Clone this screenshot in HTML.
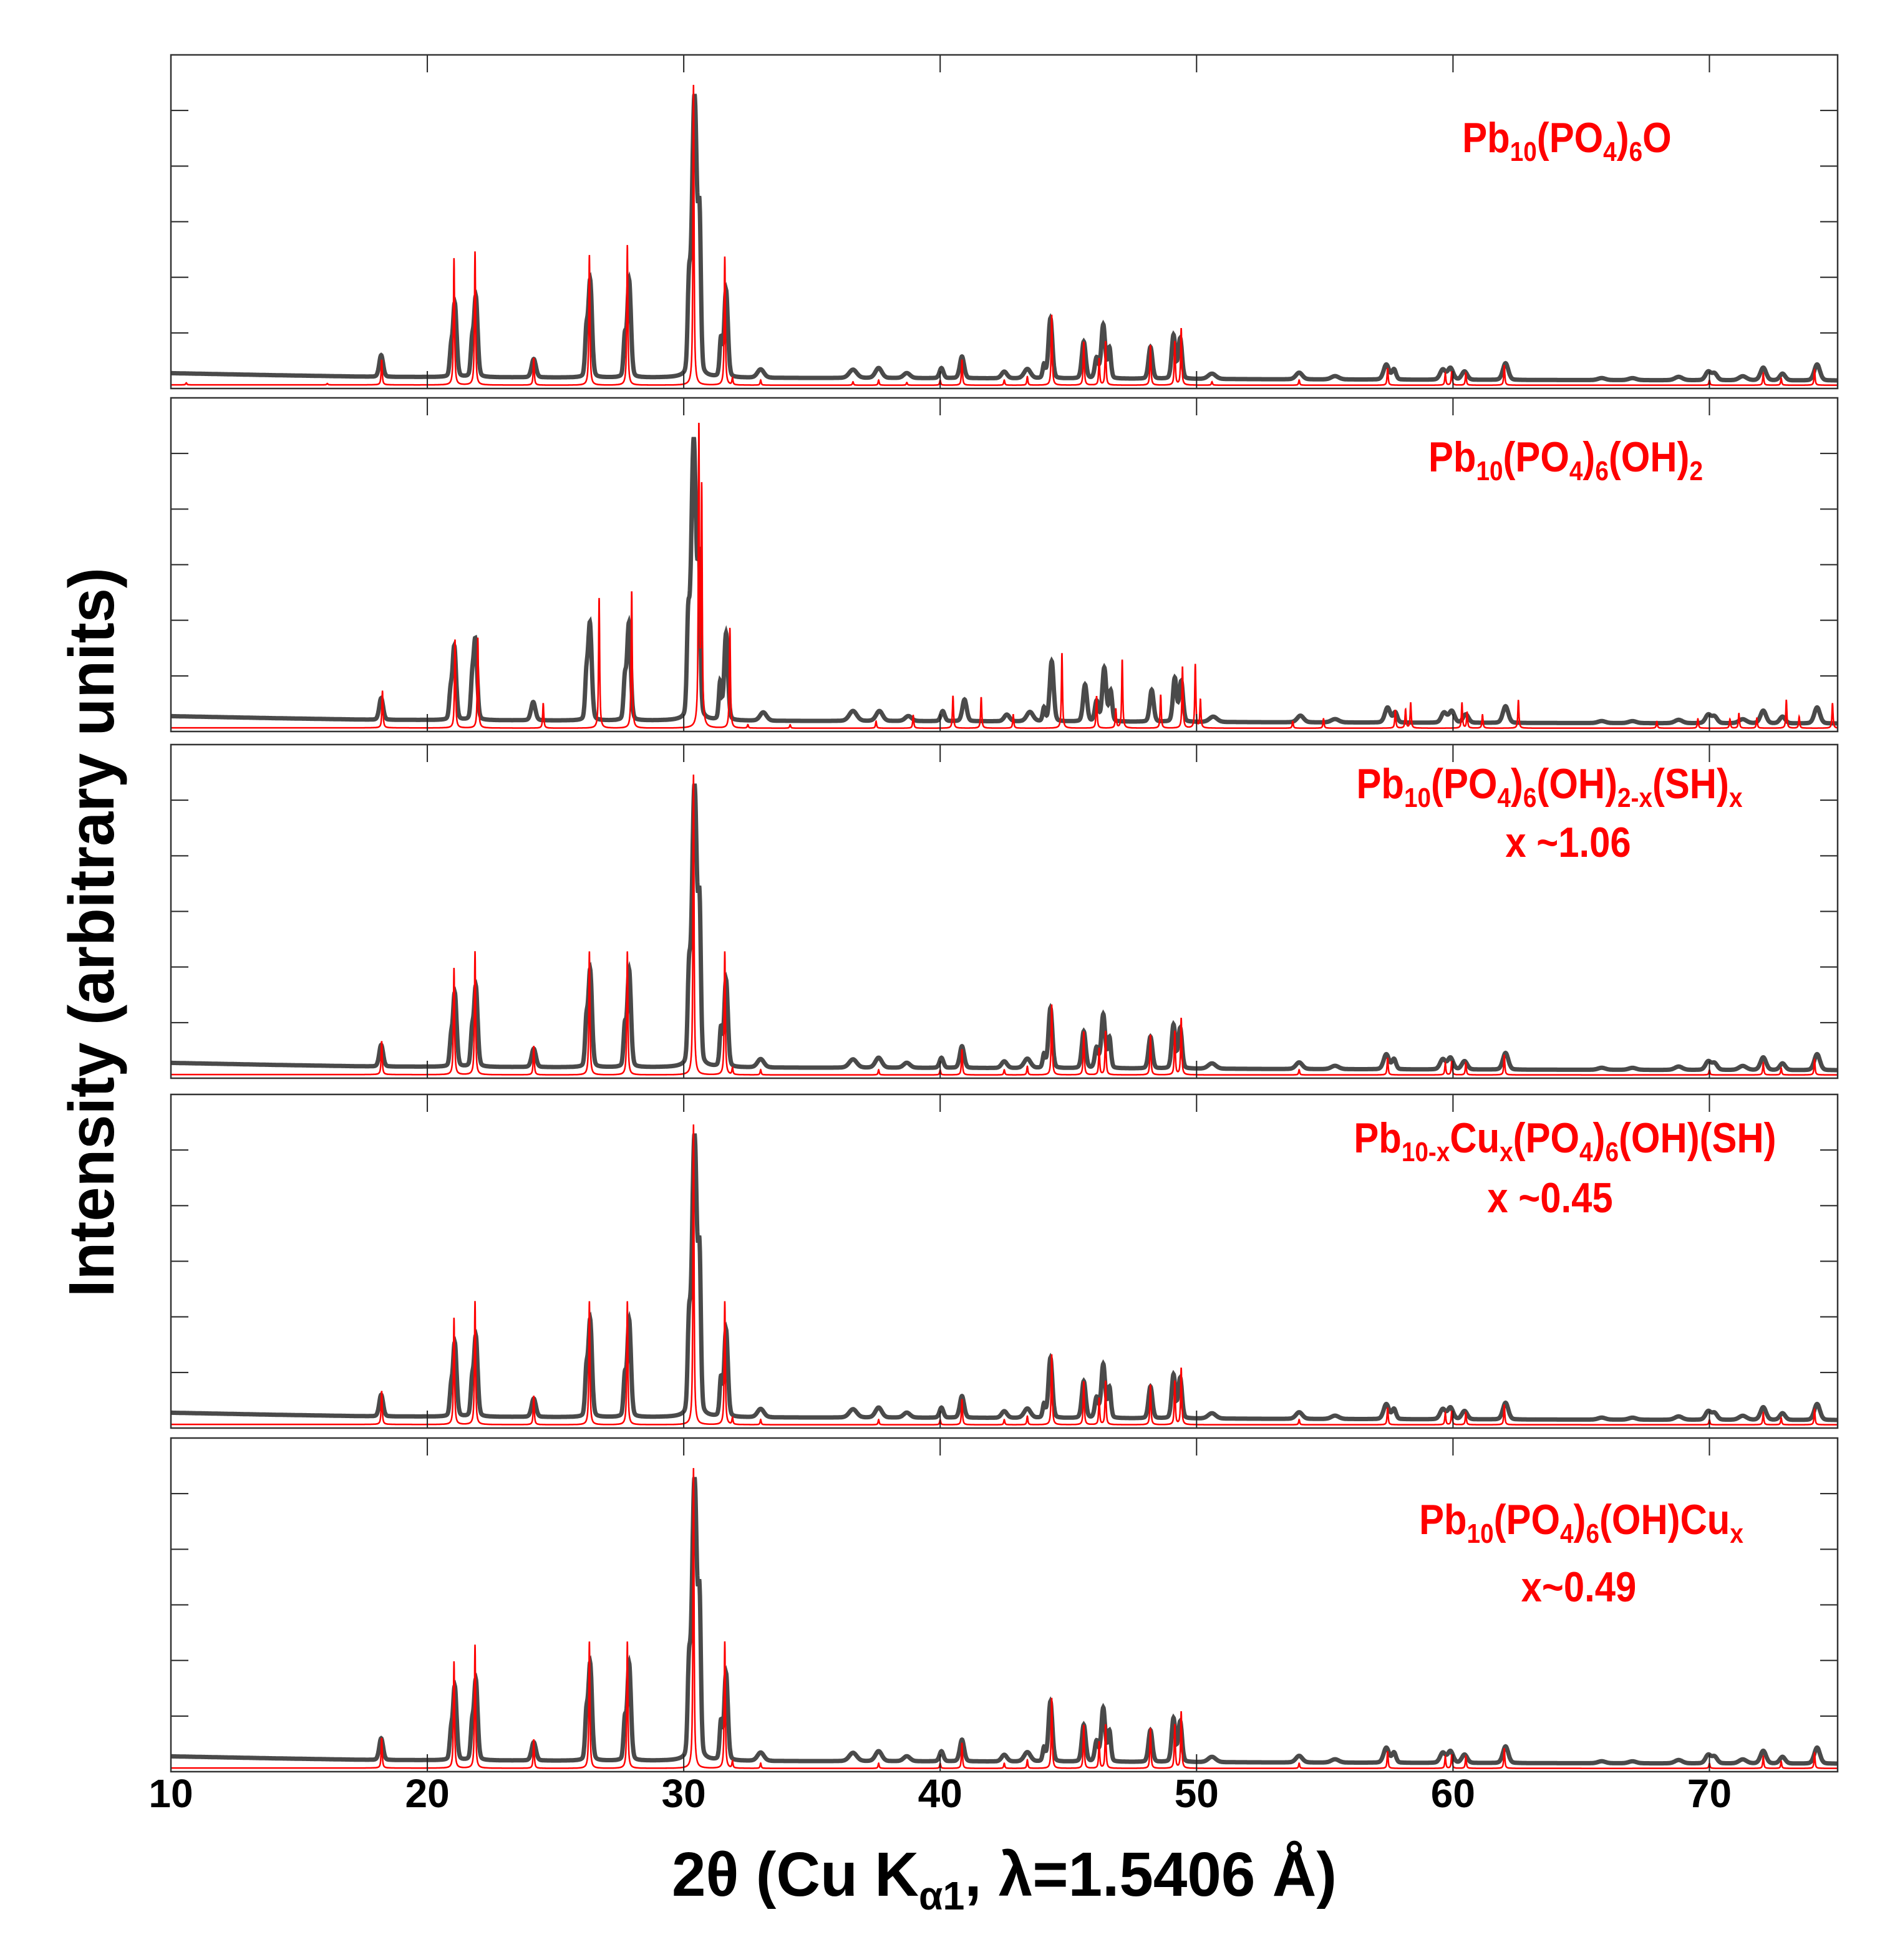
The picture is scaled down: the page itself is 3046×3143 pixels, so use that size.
<!DOCTYPE html>
<html><head><meta charset="utf-8"><title>XRD patterns</title>
<style>
html,body{margin:0;padding:0;background:#fff;}
svg{display:block;}
text{font-family:"Liberation Sans",Arial,sans-serif;font-weight:bold;}
</style></head>
<body>
<svg id="chart" xmlns="http://www.w3.org/2000/svg" width="3046" height="3143" viewBox="0 0 3046 3143">
<rect x="0" y="0" width="3046" height="3143" fill="#fff"/>
<g id="panels"></g>
<g id="labels" fill="#ff0000">
 <g transform="translate(2512,244) scale(0.88,1)"><text text-anchor="middle" font-size="68">Pb<tspan font-size="44" dy="14">10</tspan><tspan dy="-14">(PO</tspan><tspan font-size="44" dy="14">4</tspan><tspan dy="-14">)</tspan><tspan font-size="44" dy="14">6</tspan><tspan dy="-14">O</tspan></text></g>
 <g transform="translate(2510,756) scale(0.88,1)"><text text-anchor="middle" font-size="68">Pb<tspan font-size="44" dy="14">10</tspan><tspan dy="-14">(PO</tspan><tspan font-size="44" dy="14">4</tspan><tspan dy="-14">)</tspan><tspan font-size="44" dy="14">6</tspan><tspan dy="-14">(OH)</tspan><tspan font-size="44" dy="14">2</tspan></text></g>
 <g transform="translate(2484,1280) scale(0.88,1)"><text text-anchor="middle" font-size="68">Pb<tspan font-size="44" dy="14">10</tspan><tspan dy="-14">(PO</tspan><tspan font-size="44" dy="14">4</tspan><tspan dy="-14">)</tspan><tspan font-size="44" dy="14">6</tspan><tspan dy="-14">(OH)</tspan><tspan font-size="44" dy="14">2-x</tspan><tspan dy="-14">(SH)</tspan><tspan font-size="44" dy="14">x</tspan></text></g>
 <g transform="translate(2514,1374) scale(0.88,1)"><text text-anchor="middle" font-size="68">x ~1.06</text></g>
 <g transform="translate(2509,1848) scale(0.88,1)"><text text-anchor="middle" font-size="68">Pb<tspan font-size="44" dy="14">10-x</tspan><tspan dy="-14">Cu</tspan><tspan font-size="44" dy="14">x</tspan><tspan dy="-14">(PO</tspan><tspan font-size="44" dy="14">4</tspan><tspan dy="-14">)</tspan><tspan font-size="44" dy="14">6</tspan><tspan dy="-14">(OH)(SH)</tspan></text></g>
 <g transform="translate(2485,1944) scale(0.88,1)"><text text-anchor="middle" font-size="68">x ~0.45</text></g>
 <g transform="translate(2535,2460) scale(0.88,1)"><text text-anchor="middle" font-size="68">Pb<tspan font-size="44" dy="14">10</tspan><tspan dy="-14">(PO</tspan><tspan font-size="44" dy="14">4</tspan><tspan dy="-14">)</tspan><tspan font-size="44" dy="14">6</tspan><tspan dy="-14">(OH)Cu</tspan><tspan font-size="44" dy="14">x</tspan></text></g>
 <g transform="translate(2531,2568) scale(0.88,1)"><text text-anchor="middle" font-size="68">x~0.49</text></g>
</g>
<g id="xticklabels"></g>
<g transform="translate(1610,3040) scale(0.98,1)"><text text-anchor="middle" font-size="100" fill="#000">2θ (Cu K<tspan font-size="64" dy="22">α1</tspan><tspan dy="-22">, λ=1.5406 Å)</tspan></text></g>
<text transform="translate(182,1495) rotate(-90)" text-anchor="middle" font-size="103" fill="#000" textLength="1170" lengthAdjust="spacingAndGlyphs">Intensity (arbitrary units)</text>
</svg>
<script>
// ---- data (2theta in degrees, intensity in % of panel height) ----
const xTickValues = [10, 20, 30, 40, 50, 60, 70];
const xTickLabels = ["10", "20", "30", "40", "50", "60", "70"];
const bgDeg = [10, 14, 18, 25, 40, 60, 75];
const bgObs = [4.6, 4.0, 3.5, 3.3, 3.1, 2.6, 2.4];
const bgCalc = [1.1, 1.1, 1.1, 1.0, 1.0, 1.0, 1.0];

// observed peaks: [position, height, fwhm]
const obsPeaks1 = [[18.2,6.5,0.18],[20.92,7,0.12],[21.07,22,0.17],[21.74,9,0.12],[21.89,24,0.17],[24.15,5.5,0.2],[26.2,12,0.12],[26.35,29,0.17],[27.7,11,0.12],[27.87,29,0.17],[30.2,22,0.12],[30.42,84,0.24],[30.62,38,0.12],[31.45,11,0.12],[31.65,26,0.17],[33.0,2.5,0.3],[36.6,2.5,0.35],[37.6,3,0.3],[38.7,1.5,0.3],[40.05,3,0.18],[40.85,6.5,0.2],[42.5,2,0.25],[43.4,2.8,0.3],[44.05,4,0.12],[44.3,18,0.18],[45.6,11,0.18],[46.1,6,0.16],[46.36,16,0.18],[46.6,9,0.14],[48.2,9.5,0.18],[49.1,13,0.17],[49.36,12,0.17],[50.6,1.6,0.35],[54.0,2,0.3],[55.4,1,0.35],[57.4,4.5,0.25],[57.7,3,0.18],[59.6,3,0.25],[59.9,3.5,0.25],[60.45,2.5,0.25],[62.05,5,0.25],[65.8,0.6,0.35],[67.0,0.6,0.35],[68.8,1,0.35],[69.95,2.5,0.25],[70.2,2,0.25],[71.3,1.2,0.35],[72.1,3.8,0.26],[72.85,2,0.25],[74.2,4.8,0.26]];
const obsPeaks2 = [[18.2,6.5,0.18],[20.9,7,0.12],[21.05,22,0.17],[21.74,9,0.12],[21.87,24,0.17],[24.13,5.5,0.2],[26.2,11,0.12],[26.34,29,0.17],[27.7,11,0.12],[27.86,29,0.17],[30.17,24,0.12],[30.39,84,0.24],[30.6,38,0.12],[31.42,11,0.12],[31.65,26,0.17],[33.1,2.5,0.3],[36.6,3,0.35],[37.63,3,0.3],[38.76,1.5,0.3],[40.1,3,0.18],[40.95,6.5,0.2],[42.6,2,0.25],[43.5,2.8,0.3],[44.05,4,0.12],[44.35,18,0.18],[45.65,11,0.18],[46.1,6,0.16],[46.4,16,0.18],[46.65,9,0.14],[48.25,9.5,0.18],[49.15,13,0.17],[49.4,12,0.17],[50.65,1.6,0.35],[54.05,2,0.3],[55.4,1,0.35],[57.45,4.5,0.25],[57.75,3,0.18],[59.65,3,0.25],[59.95,3.5,0.25],[60.5,2.5,0.25],[62.05,5,0.25],[65.8,0.6,0.35],[67.0,0.6,0.35],[68.8,1,0.35],[69.95,2.5,0.25],[70.2,2,0.25],[71.3,1.2,0.35],[72.1,3.8,0.26],[72.85,2,0.25],[74.2,4.8,0.26]];

// calculated peaks: [position, height]
const calcPeaks1 = [[10.6,0.6],[16.1,0.4],[18.22,7.5],[21.04,38],[21.86,40],[24.15,8],[26.32,39],[27.8,42],[30.38,90],[31.6,38.5],[31.9,2],[33.0,1.5],[36.6,1],[37.6,1.5],[38.7,0.8],[40.0,1.5],[40.85,7.5],[42.5,1.5],[43.4,2.5],[44.35,21],[45.6,13],[46.2,8],[46.45,13],[48.2,12],[49.15,13],[49.4,17],[50.6,1],[54.0,1.5],[57.45,5],[59.7,3.5],[59.95,4],[60.5,3.5],[62.0,6],[70.0,1.5],[72.1,3.5],[72.8,2],[74.1,4.5]];
const calcPeaks2 = [[18.25,11],[21.08,26.5],[21.97,27],[24.52,7.5],[26.7,39],[27.97,41],[30.59,89],[30.7,70],[31.8,30],[32.5,1],[34.15,1],[37.5,2],[38.95,3.8],[40.5,9.7],[41.6,9.3],[42.85,4],[44.75,22.4],[46.1,9.6],[46.85,5.6],[47.1,20.5],[48.6,10],[49.45,18.3],[49.95,19],[50.15,8.4],[53.75,2],[54.95,2.8],[57.75,5.3],[58.15,5.6],[58.35,7.5],[60.35,7.5],[60.55,4.7],[61.15,4],[62.55,8.3],[67.95,2],[69.55,2.8],[70.8,2.7],[71.15,4.4],[71.85,3],[73.0,8.5],[73.5,3.4],[74.8,7.5]];
const calcPeaks3 = [[18.22,10],[21.04,32],[21.86,37],[24.15,8.5],[26.32,37],[27.8,37],[30.38,90],[31.6,37],[31.9,2],[33.0,1.5],[37.6,1.5],[40.0,1.5],[40.85,7.5],[42.5,1.5],[43.4,2.5],[44.35,21],[45.6,13],[46.2,8],[46.45,13],[48.2,12],[49.15,13],[49.4,17],[54.0,1.5],[57.45,5],[59.7,3.5],[59.95,4],[60.5,3.5],[62.0,6],[70.0,1.5],[72.1,3.5],[72.8,2],[74.1,4.5]];
const calcPeaks5 = [[18.22,9],[21.04,32],[21.86,37],[24.15,8.5],[26.32,38],[27.8,38],[30.38,90],[31.6,38],[31.9,2],[33.0,1.5],[37.6,1.5],[40.0,1.5],[40.85,7.5],[42.5,1.5],[43.4,2.5],[44.35,21],[45.6,13],[46.2,8],[46.45,13],[48.2,12],[49.15,13],[49.4,17],[54.0,1.5],[57.45,5],[59.7,3.5],[59.95,4],[60.5,3.5],[62.0,6],[70.0,1.5],[72.1,3.5],[72.8,2],[74.1,4.5]];

const panelObs = [obsPeaks1, obsPeaks2, obsPeaks1, obsPeaks1, obsPeaks1];
const panelCalc = [calcPeaks1, calcPeaks2, calcPeaks3, calcPeaks3, calcPeaks5];

// ---- layout ----
const NS = "http://www.w3.org/2000/svg";
const panelTops = [88, 638, 1194, 1755, 2306];
const PH = 535, X0 = 274, X1 = 2946, XMIN = 10, XMAX = 75;
function xs(d){ return X0 + (d - XMIN) / (XMAX - XMIN) * (X1 - X0); }
function ys(p, v){ return panelTops[p] + PH - v / 100 * PH; }
function interp(d, xa, ya){
  if (d <= xa[0]) return ya[0];
  for (let i = 1; i < xa.length; i++) if (d <= xa[i]) { const t = (d - xa[i-1]) / (xa[i] - xa[i-1]); return ya[i-1] + t * (ya[i] - ya[i-1]); }
  return ya[ya.length - 1];
}
function pv(d, pos, h, w, eta){
  const z = (d - pos) / (w / 2);
  return h * (eta / (1 + z * z) + (1 - eta) * Math.exp(-0.6931 * z * z));
}
function mk(tag, attrs){ const e = document.createElementNS(NS, tag); for (const k in attrs) e.setAttribute(k, attrs[k]); return e; }

const root = document.getElementById("panels");
for (let p = 0; p < 5; p++){
  const g = mk("g", {});
  
  
  root.appendChild(g);
  const top = panelTops[p], bot = top + PH;
  let pts = [];
  for (let d = XMIN; d <= XMAX + 1e-9; d += 0.01){
    let v = interp(d, bgDeg, bgObs);
    for (const pk of panelObs[p]) if (Math.abs(d - pk[0]) < 3) v += pv(d, pk[0], pk[1], pk[2], 0.2);
    pts.push(xs(d).toFixed(1) + "," + ys(p, Math.min(v, 99.5)).toFixed(1));
  }
  const obs = mk("polyline", {points: pts.join(" "), fill: "none", stroke: "#4a4a4a", "stroke-width": 7, "stroke-linejoin": "miter"});
  
  
  g.appendChild(obs);
  pts = [];
  for (let d = XMIN; d <= XMAX + 1e-9; d += 0.004){
    let v = interp(d, bgDeg, bgCalc);
    for (const pk of panelCalc[p]) if (Math.abs(d - pk[0]) < 3) v += pv(d, pk[0], pk[1], 0.05, 0.85);
    pts.push(xs(d).toFixed(1) + "," + ys(p, Math.min(v, 99.5)).toFixed(1));
  }
  const calc = mk("polyline", {points: pts.join(" "), fill: "none", stroke: "#ff0000", "stroke-width": 2.5});
  
  
  g.appendChild(calc);
  for (const t of xTickValues){
    if (t === XMIN) continue;
    const x = xs(t);
    const tb = mk("line", {x1: x, y1: bot, x2: x, y2: bot - 28, stroke: "#222", "stroke-width": 2});
    
    
    g.appendChild(tb);
    const tt = mk("line", {x1: x, y1: top, x2: x, y2: top + 28, stroke: "#222", "stroke-width": 2});
    
    
    g.appendChild(tt);
  }
  for (let k = 1; k <= 5; k++){
    const y = bot - k * PH / 6;
    const tl = mk("line", {x1: X0, y1: y, x2: X0 + 28, y2: y, stroke: "#222", "stroke-width": 2});
    
    
    g.appendChild(tl);
    const tr = mk("line", {x1: X1, y1: y, x2: X1 - 28, y2: y, stroke: "#222", "stroke-width": 2});
    
    
    g.appendChild(tr);
  }
  const frame = mk("rect", {x: X0, y: top, width: X1 - X0, height: PH, fill: "none", stroke: "#333", "stroke-width": 2.5});
  
  
  g.appendChild(frame);
}
const tlg = document.getElementById("xticklabels");
for (let i = 0; i < xTickValues.length; i++){
  const t = mk("text", {x: xs(xTickValues[i]), y: 2898, "text-anchor": "middle", "font-size": 64, fill: "#000"});
  t.textContent = xTickLabels[i];
  
  
  tlg.appendChild(t);
}
</script>
</body></html>
